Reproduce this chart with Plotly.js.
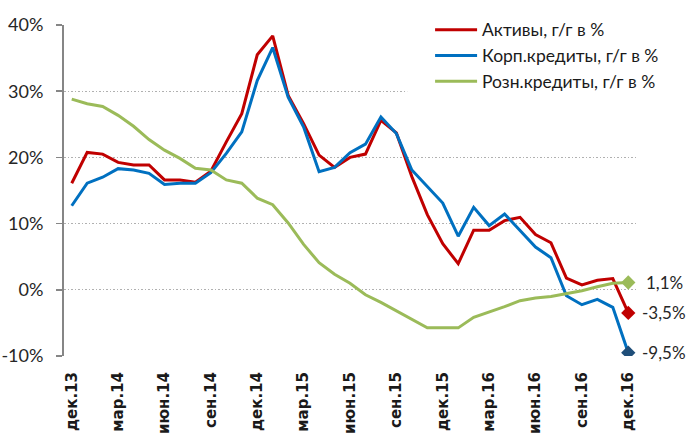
<!DOCTYPE html>
<html>
<head>
<meta charset="utf-8">
<script src="https://cdn.plot.ly/plotly-3.0.1.min.js"></script>
<style>
  html, body { margin: 0; padding: 0; background: #fff; }
  #chart { width: 689px; height: 436px; }
</style>
</head>
<body>
<div id="chart"></div>
<script>
// monthly, dec 2013 .. dec 2016
const months = [
  'дек.13', 'янв.14', 'фев.14', 'мар.14', 'апр.14', 'май.14', 'июн.14', 'июл.14', 'авг.14', 'сен.14', 'окт.14', 'ноя.14',
  'дек.14', 'янв.15', 'фев.15', 'мар.15', 'апр.15', 'май.15', 'июн.15', 'июл.15', 'авг.15', 'сен.15', 'окт.15', 'ноя.15',
  'дек.15', 'янв.16', 'фев.16', 'мар.16', 'апр.16', 'май.16', 'июн.16', 'июл.16', 'авг.16', 'сен.16', 'окт.16', 'ноя.16',
  'дек.16'
];

// y/y growth, %
const assets = [16.1, 20.75, 20.5, 19.25, 18.85, 18.85, 16.6, 16.6, 16.25, 17.9,
  22.35, 26.6, 35.5, 38.35, 29.35, 25.1, 20.35, 18.5, 20.0, 20.5,
  25.6, 23.7, 17.1, 11.35, 6.95, 3.95, 9.0, 9.0, 10.45, 10.95,
  8.35, 7.1, 1.75, 0.75, 1.45, 1.7, -3.5];
const corpLoans = [12.7, 16.1, 17.0, 18.3, 18.1, 17.6, 15.9, 16.1, 16.1, 17.7,
  20.6, 23.85, 31.6, 36.6, 29.1, 24.6, 17.85, 18.5, 20.7, 22.0,
  26.1, 23.6, 18.1, 15.6, 13.1, 8.1, 12.45, 9.7, 11.45, 8.95,
  6.45, 4.85, -0.9, -2.25, -1.45, -2.65, -9.5];
const retailLoans = [28.8, 28.1, 27.7, 26.35, 24.7, 22.7, 21.1, 19.85, 18.35, 18.1,
  16.6, 16.1, 13.85, 12.85, 10.1, 6.85, 4.1, 2.35, 1.0, -0.75,
  -1.9, -3.15, -4.4, -5.75, -5.75, -5.75, -4.15, -3.4, -2.55, -1.65,
  -1.25, -1.0, -0.55, -0.15, 0.45, 1.0, 1.1];

const seriesNames = ['Активы, г/г в %', 'Корп.кредиты, г/г в %', 'Розн.кредиты, г/г в %'];
const seriesColors = ['#C00000', '#0070C0', '#9BBB59'];
const endColors = ['#C00000', '#1F4E79', '#9BBB59'];
const allSeries = [assets, corpLoans, retailLoans];

const yTicks = [-10, 0, 10, 20, 30, 40];

const last = months.length - 1;
const fmt = v => v.toFixed(1).replace('.', ',') + '%';

let traces = allSeries.map((vals, k) => ({
  type: 'scatter',
  mode: 'lines',
  x: months,
  y: vals,
  name: seriesNames[k],
  legendgroup: 'g' + k,
  line: {color: seriesColors[k], width: 3},
  hoverinfo: 'skip'
}));

// diamonds on the last month
allSeries.forEach((vals, k) => {
  traces.push({
    type: 'scatter',
    mode: 'markers',
    x: [months[last]],
    y: [vals[last]],
    showlegend: false,
    marker: {symbol: 'diamond', size: 11, color: endColors[k]},
    hoverinfo: 'skip'
  });
});

// tick marks between every 3rd month
let boundaryTicks = [];
for (let i = 0; i < months.length; i += 3) boundaryTicks.push(i - 0.5);

const endLabels = allSeries.map(vals => ({
  x: months[last],
  y: vals[last],
  xref: 'x',
  yref: 'y',
  text: fmt(vals[last]),
  showarrow: false,
  xanchor: 'center',
  xshift: 36,
  font: {family: 'Lato', size: 17, color: '#262626'}
}));

const layout = {
  width: 689,
  height: 436,
  margin: {l: 64, r: 53, t: 22, b: 80},
  paper_bgcolor: '#fff',
  plot_bgcolor: '#fff',
  showlegend: true,
  legend: {
    x: 0.64,
    xanchor: 'left',
    y: 1.04,
    yanchor: 'top',
    bgcolor: '#fff',
    itemwidth: 42,
    traceorder: 'grouped',
    tracegroupgap: 0,
    font: {family: 'Lato', size: 17.5, color: '#1a1a1a'}
  },
  xaxis: {
    type: 'category',
    categoryorder: 'array',
    categoryarray: months,
    range: [-0.5, last + 0.5],
    tickvals: months.filter((m, i) => i % 3 === 0),
    ticktext: months.filter((m, i) => i % 3 === 0),
    tickangle: -90,
    ticks: '',
    ticklabelstandoff: 12,
    showgrid: false,
    showline: false,
    zeroline: false,
    tickfont: {family: 'DejaVu Sans', size: 15, color: '#1a1a1a', weight: 'bold'},
    fixedrange: true
  },
  xaxis2: {
    overlaying: 'x',
    anchor: 'free',
    position: 10 / 50,
    type: 'linear',
    range: [-0.5, last + 0.5],
    tickvals: boundaryTicks,
    showticklabels: false,
    ticks: 'outside',
    ticklen: 6,
    tickwidth: 1.5,
    tickcolor: '#868686',
    showline: true,
    linecolor: '#868686',
    linewidth: 2,
    showgrid: false,
    zeroline: false,
    layer: 'below traces'
  },
  yaxis: {
    range: [-10, 40],
    tickvals: yTicks,
    ticktext: yTicks.map(v => v + '%'),
    ticks: 'outside',
    ticklen: 6,
    tickwidth: 1.5,
    tickcolor: '#868686',
    ticklabelstandoff: 9,
    showline: true,
    linecolor: '#868686',
    linewidth: 2,
    showgrid: true,
    gridcolor: '#B0B0B0',
    griddash: '1.5px,2px',
    gridwidth: 1.3,
    zeroline: false,
    tickfont: {family: 'Lato', size: 18, color: '#262626'},
    fixedrange: true
  },
  shapes: [{
    type: 'rect',
    xref: 'paper', yref: 'paper',
    x0: 0.6, x1: 1.0, y0: 0.74, y1: 1.0,
    fillcolor: '#fff',
    line: {width: 0},
    layer: 'above'
  }],
  annotations: endLabels
};

Plotly.newPlot('chart', traces, layout, {displayModeBar: false, staticPlot: true});
</script>
</body>
</html>
